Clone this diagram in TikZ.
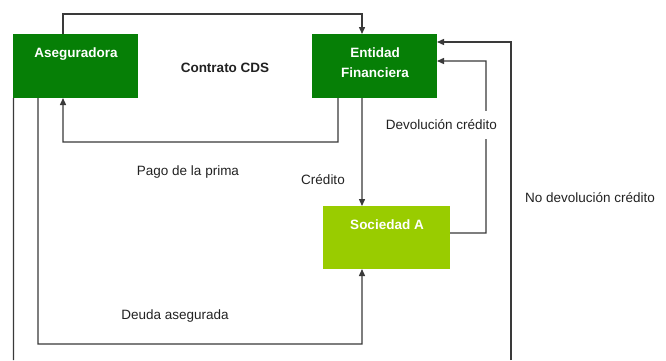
\documentclass[tikz,border=0pt]{standalone}
\usepackage{fontspec}
\setmainfont{Liberation Sans}
\usetikzlibrary{arrows.meta,calc}
\definecolor{dgreen}{HTML}{067F06}
\definecolor{lgreen}{HTML}{99CC00}
\definecolor{linec}{HTML}{3A3A3A}
\definecolor{txtc}{HTML}{222222}
\tikzset{
  box/.style={draw=none,minimum width=125bp,minimum height=64bp,inner sep=0pt,outer sep=0pt},
  boxtext/.style={text=white,font=\fontsize{13.5bp}{20bp}\selectfont\bfseries,align=center,inner sep=0pt},
  lbl/.style={text=txtc,font=\fontsize{13.5bp}{16bp}\selectfont,inner sep=1pt},
  conn/.style={draw=linec,line width=1.4bp},
  arr/.style={conn,-{Triangle[length=7bp,width=6bp]}}
}
\begin{document}
\begin{tikzpicture}[x=1bp,y=-1bp]
\useasboundingbox (0,0) rectangle (666,360);
\fill[white] (0,0) rectangle (666,360);
% boxes
\node[box,fill=dgreen] (aseg) at (75.5,66) {};
\node[box,fill=dgreen] (ent) at (374.5,66) {};
\node[box,fill=lgreen,minimum width=127bp,minimum height=63bp] (soc) at (386.5,237.5) {};
\node[boxtext] (asegT) at (76,54) {Aseguradora};
\node[boxtext] (entT) at (375,63) {Entidad\\Financiera};
\node[boxtext] (socT) at (387,225) {Sociedad A};
% free ends
\coordinate (leftEnd) at (13.5,360);
\coordinate (nodevEnd) at (511,360);
% connectors
\draw[arr] ([xshift=50bp]aseg.north west) -- ++(0,-20) -| ([xshift=50bp]ent.north west);
\draw[arr] ([xshift=26bp]ent.south west) |- (63,142) -- ([xshift=50bp]aseg.south west);
\draw[arr] ([xshift=50bp]ent.south west) -- ([xshift=39bp]soc.north west);
\draw[arr] ([yshift=4.5bp]soc.east) -| (486,61) -- ([yshift=5bp]ent.east);
\draw[arr] (nodevEnd) |- ([yshift=24bp]ent.east);
\draw[arr] ([xshift=25bp]aseg.south west) |- (362,344) -- ([xshift=39bp]soc.south west);
\draw[conn] ([xshift=0.5bp]aseg.south west) -- (leftEnd);
% labels
\node[lbl,font=\fontsize{13.5bp}{16bp}\selectfont\bfseries] (cds) at (225,68) {Contrato CDS};
\node[lbl] (pago) at (188,172) {Pago de la prima};
\node[lbl] (cred) at (323,180) {Crédito};
\node[lbl,fill=white,inner xsep=2bp,inner ysep=9bp] (dev) at (441.5,125) {Devolución crédito};
\node[lbl] (nodev) at (590,198) {No devolución crédito};
\node[lbl] (deuda) at (175,316) {Deuda asegurada};
\end{tikzpicture}
\end{document}
